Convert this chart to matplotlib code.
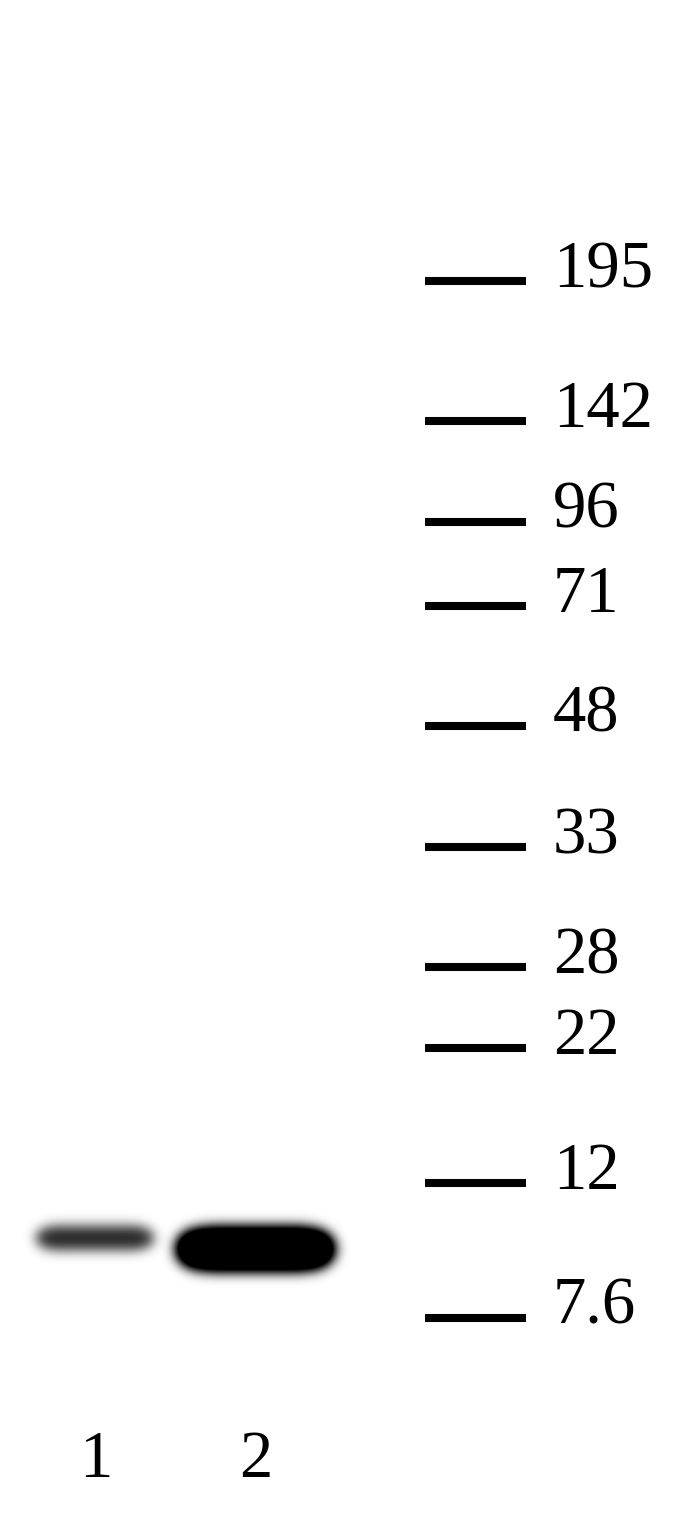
import numpy as np
import matplotlib
matplotlib.use("Agg")
import matplotlib.pyplot as plt

# molecular weight ladder (kDa) and where each marker runs on the blot (px from top)
marker_labels = ["195", "142", "96", "71", "48", "33", "28", "22", "12", "7.6"]
marker_rows = [281, 421, 522, 606, 726, 847, 967, 1048, 1183, 1318]

# detected bands: lane, left/right edge, row, thickness, darkness (0-1)
lane_names = ["1", "2"]
lane_centers = [96, 256]
band_left = [36, 175]
band_right = [154, 336]
band_rows = [1238, 1249]
band_thickness = [25, 46]
band_darkness = [0.85, 1.5]

W, H = 684, 1520


def blur(img, sigma):
    r = int(3 * sigma)
    k = np.exp(-0.5 * (np.arange(-r, r + 1) / sigma) ** 2)
    k /= k.sum()
    img = np.apply_along_axis(lambda v: np.convolve(v, k, mode="same"), 0, img)
    img = np.apply_along_axis(lambda v: np.convolve(v, k, mode="same"), 1, img)
    return img


fig = plt.figure(figsize=(W / 100, H / 100), dpi=100)
ax = fig.add_axes([0, 0, 1, 1])
ax.set_xlim(0, W)
ax.set_ylim(H, 0)
ax.axis("off")

# render the band signal as a blurred image
xs = np.arange(W) + 0.5
ys = np.arange(1150, 1340) + 0.5
X, Y = np.meshgrid(xs, ys)
signal = np.zeros_like(X)
for x0, x1, yc, th, d in zip(band_left, band_right, band_rows, band_thickness, band_darkness):
    xc = (x0 + x1) / 2
    hw = (x1 - x0) / 2
    u = np.abs(X - xc) / hw
    v = np.abs(Y - yc) / (th / 2)
    core = (u ** 6 + v ** 2) <= 1
    signal += d * core
signal = blur(signal, 6.0)
signal = np.clip(signal, 0, 1)
ax.imshow(1 - signal, cmap="gray", vmin=0, vmax=1,
          extent=(0, W, ys[-1] + 0.5, ys[0] - 0.5), aspect="auto",
          interpolation="bilinear", zorder=1)

# ladder marks and labels
for lab, row in zip(marker_labels, marker_rows):
    ax.plot([425, 526], [row, row], color="black", lw=5.8, solid_capstyle="butt", zorder=2)
    ax.text(553, row + 6, lab, fontsize=48, family="Liberation Serif",
            ha="left", va="baseline", color="black", zorder=3)

# lane numbers
for name, xc in zip(lane_names, lane_centers):
    ax.text(xc, 1477, name, fontsize=48, family="Liberation Serif",
            ha="center", va="baseline", color="black")

fig.savefig("out.png", dpi=100, facecolor="white")
